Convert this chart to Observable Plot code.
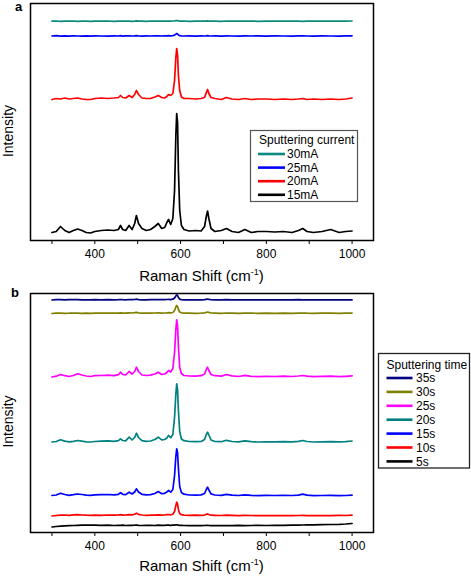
<!DOCTYPE html>
<html>
<head>
<meta charset="utf-8">
<script src="https://cdn.jsdelivr.net/npm/d3@7"></script>
<script src="https://cdn.jsdelivr.net/npm/@observablehq/plot@0.6"></script>
<style>
  html, body { margin: 0; padding: 0; background: #fff; }
  #wrap { position: relative; width: 471px; height: 578px; overflow: hidden; font-family: "Liberation Sans", Arial, sans-serif; }
  #wrap svg { position: absolute; left: 0; overflow: visible; }
</style>
</head>
<body>
<div id="wrap"></div>
<script>
// ---------- data ----------
const shift = [300,310,320,330,340,350,360,370,380,390,
  400,415,430,445,455,460,465,472,480,487,
  493,497,502,510,520,530,540,548,556,563,
  568,572,577,582,586,589,591,593,595,598,
  602,608,620,635,648,656,660,663,666,671,
  680,695,707,720,735,750,765,780,800,820,
  840,860,875,885,895,910,930,950,970,985,
  1000];

const xTicks = [300,400,500,600,700,800,900,1000];
const xTickLabels = [400,600,800,1000];

// Panel a: sputtering current
const currentLabels = ["30mA","25mA","20mA","15mA"];
const currentColors = ["#0a8a80","#0000ff","#ff0000","#000000"];
const i30mA = [219.3,219.5,219.2,219.4,219.3,219.5,219.2,219.4,219.3,219.2,
  219.4,219.3,219.5,219.2,219.4,219.3,219.5,219.3,219.4,219.2,
  219.4,219.6,219.3,219.4,219.2,219.5,219.3,219.4,219.3,219.5,
  219.4,219.5,219.3,219.5,219.6,219.8,219.9,219.8,219.6,219.4,
  219.3,219.5,219.2,219.4,219.3,219.5,219.4,219.6,219.4,219.3,
  219.4,219.2,219.5,219.3,219.4,219.3,219.5,219.2,219.4,219.3,
  219.5,219.3,219.4,219.2,219.4,219.3,219.5,219.4,219.3,219.4,
  219.5];
const i25mA = [204.5,204.8,204.3,204.6,204.4,204.7,204.5,204.3,204.6,204.4,
  204.7,204.5,204.4,204.6,204.5,204.8,204.4,204.6,204.7,204.5,
  204.6,204.9,204.5,204.4,204.6,204.5,204.7,204.6,204.5,204.6,
  204.7,204.8,204.6,204.9,205.3,206.3,207,206.5,205.5,204.8,
  204.6,204.5,204.7,204.4,204.6,204.5,204.6,204.9,204.6,204.5,
  204.6,204.4,204.7,204.5,204.4,204.6,204.5,204.7,204.4,204.6,
  204.5,204.4,204.6,204.7,204.5,204.4,204.6,204.5,204.4,204.6,
  204.7];
const i20mA = [141,142,141.5,142.5,141.5,142,142.5,141.5,141,141,
  142,142.5,142,142.5,143,145,143,142.5,145,143,
  146,150,146,142.5,142,142,143.5,145,143,142.5,
  144,146,145,147,160,183,192,186,165,150,
  143.5,142,142,141.5,142,143,148,151,147,143,
  142,141,143,141.5,141,142,141,141.5,141.5,141,
  141.5,141,141.5,142,141,141.5,141,141.5,141,141.5,
  142.5];
const i15mA = [8,9,14,10,8,10,11.5,10,8,7.5,
  9,10,10.5,10,11,15,11,10,15,11,
  17,25,17,12,10,11,14,17,12,13,
  18,21,16,22,50,105,127,118,70,30,
  15,11,9.5,10,9.5,14,24,29.5,22,12,
  9,10,12,9,8,11,8,9,9,8.5,
  9,8,10,12,9,8,9,11,8,9,
  9.5];

// Panel b: sputtering time
const timeLabels = ["35s","30s","25s","20s","15s","10s","5s"];
const timeColors = ["#000080","#808000","#ff00ff","#008080","#0000ff","#ff0000","#000000"];
const i35s = [232.5,232.8,232.9,232.7,232.8,232.9,232.8,232.6,232.7,232.6,
  232.8,232.7,232.9,232.7,232.8,233,232.8,232.7,233,232.8,
  233,233.3,232.9,232.7,232.6,232.8,232.9,233,232.8,232.9,
  233,233.1,232.9,233.3,234.5,236.5,237.7,237,235,233.4,
  232.9,232.7,232.6,232.7,232.6,232.8,233.2,233.5,233.2,232.8,
  232.7,232.6,232.8,232.7,232.6,232.7,232.6,232.7,232.6,232.7,
  232.6,232.7,232.8,232.7,232.6,232.7,232.6,232.7,232.6,232.7,
  232.7];
const i30s = [219,219.3,219.4,219.2,219.3,219.5,219.4,219.2,219.3,219.2,
  219.4,219.3,219.5,219.3,219.4,219.6,219.4,219.3,219.7,219.5,
  219.8,220.2,219.7,219.4,219.3,219.4,219.5,219.7,219.4,219.5,
  219.6,219.8,219.6,220,222,225.5,227,226,223,220.5,
  219.7,219.4,219.3,219.2,219.3,219.5,220.2,220.5,220.1,219.5,
  219.4,219.2,219.5,219.3,219.2,219.4,219.3,219.2,219.3,219.2,
  219.3,219.2,219.4,219.5,219.3,219.2,219.3,219.4,219.2,219.3,
  219.4];
const i25s = [155.5,156.3,158,156.8,156,157,158.7,157.5,156.5,156,
  156.8,157,157.3,156.9,157.8,160.3,158,157.5,161,158.5,
  161,165.3,161,157.5,157,157.4,158.5,160.3,158,158.5,
  160,162,160.5,164,180,203,212.7,207,186,165,
  159,157,156.5,156.4,156.8,158.5,163,165.3,162,158,
  156.8,156.4,158,156.6,156,157.2,156.2,155.9,156.2,156,
  156.3,156,156.5,157,156.3,155.9,156.1,156.3,155.9,156.2,
  156.6];
const i20s = [90.5,91,92.7,91.4,90.6,91.2,92,91.3,90.7,90.5,
  91,91.3,91.6,91.2,91.8,93.7,92,91.6,95.3,92.5,
  95,99.3,95,91.8,91.2,91.5,93,95.3,92.6,93,
  94.5,97,94.8,98,115,138,148.7,143,122,101,
  93.5,91.8,91,90.8,91,93,98,100.3,97.5,92.5,
  91,90.8,92.2,91,90.6,91.7,90.8,90.5,90.7,90.6,
  90.8,90.6,91.2,92,91,90.5,90.7,90.8,90.6,90.9,
  91.5];
const i15s = [37,37.5,39.3,38,37.2,37.8,38.5,38,37.4,37.2,
  37.6,37.8,38,37.7,38.2,39.8,38.2,37.9,40.3,38.5,
  40.5,43.7,40.5,38.2,37.7,37.9,39,41,38.8,39.2,
  40.5,42,40.3,43,57,76,83.7,80,64,46,
  40,38.3,37.5,37.4,37.6,39,43,45.3,42.5,38.6,
  37.5,37.2,38.2,37.3,37,37.6,37.1,36.9,37.2,37,
  37.1,37,37.4,38.3,37.3,36.9,37,37.2,36.9,37,
  37.4];
const i10s = [16.5,17,17.3,17.5,17.2,17.6,17.8,17.5,17.3,17.2,
  17.4,17.2,17.5,17.3,17.5,17.8,17.4,17.5,17.9,17.6,
  18.3,19.3,18.2,17.5,17.2,17.4,17.3,17.7,17.4,17.5,
  17.8,18,17.7,18.3,21,27,30.3,28.5,23,19,
  17.8,17.4,17.2,17.3,17.1,17.4,18.2,18.6,18,17.3,
  17.2,17,17.3,17.1,16.9,17.2,17,16.8,17,16.9,
  17,16.8,17,17.1,16.9,16.8,17,16.9,17.1,17,
  17.3];
const i5s = [5.5,6,6.3,6.6,6.8,7,7.2,7.4,7.3,7.5,
  7.4,7.2,7.3,7,7.2,7.1,7.3,7,7.2,7.1,
  7.3,7.5,7.2,7,7.1,7.2,7,7.3,7.1,7.2,
  7.3,7.4,7.2,7.3,7.4,7.6,7.7,7.6,7.4,7.2,
  7.1,7,6.9,7,6.8,7,7.1,7.2,7,6.9,
  7,6.8,7,6.9,7.1,6.9,7,7.2,7,7.1,
  7.2,7.3,7.4,7.5,7.6,7.7,7.8,8,8.2,8.5,
  9];

const currentSeries = [i30mA, i25mA, i20mA, i15mA];
const timeSeries = [i35s, i30s, i25s, i20s, i15s, i10s, i5s];

function toRows(labels, series) {
  const rows = [];
  labels.forEach((lab, k) => series[k].forEach((v, i) => rows.push({shift: shift[i], value: v, series: lab})));
  return rows;
}
const rowsA = toRows(currentLabels, currentSeries);
const rowsB = toRows(timeLabels, timeSeries);

const FONT = "'Liberation Sans', Arial, sans-serif";

function makePanel(rows, labels, colors, opts) {
  return Plot.plot({
    width: 471, height: opts.height,
    marginLeft: 30, marginRight: 98, marginTop: opts.marginTop, marginBottom: opts.marginBottom,
    style: {fontFamily: FONT, fontSize: "12px", color: "#000", background: "transparent"},
    x: {domain: [250, 1050]},
    y: {domain: opts.yDomain, axis: null},
    color: {domain: labels, range: colors},
    marks: [
      Plot.axisX({ticks: xTicks, tickSize: 4, tickPadding: 5, label: null, fontSize: 12,
        tickFormat: d => xTickLabels.includes(d) ? String(d) : ""}),
      Plot.line(rows, {x: "shift", y: "value", z: "series", stroke: "series", strokeWidth: 1.7, curve: "linear"}),
      Plot.frame({stroke: "#000", strokeWidth: 1.5})
    ]
  });
}

const wrap = document.getElementById("wrap");
const svgA = makePanel(rowsA, currentLabels, currentColors, {height: 285, marginTop: 3, marginBottom: 45, yDomain: [0, 237]});
svgA.style.top = "0px";
wrap.appendChild(svgA);
const svgB = makePanel(rowsB, timeLabels, timeColors, {height: 293, marginTop: 8, marginBottom: 46, yDomain: [0, 239]});
svgB.style.top = "285px";
wrap.appendChild(svgB);

function decorate(svgNode, o) {
  const svg = d3.select(svgNode);
  const g = svg.append("g").attr("font-family", FONT).attr("fill", "#000").attr("text-anchor", "start");
  // panel letter
  g.append("text").attr("x", o.letterX).attr("y", o.letterY).attr("font-size", 13).attr("font-weight", "bold").text(o.letter);
  // y label
  g.append("text").attr("transform", `translate(13,${o.yLabelY}) rotate(-90)`).attr("text-anchor", "middle")
    .attr("font-size", 14).text("Intensity");
  // x label with superscript
  const xl = g.append("text").attr("x", 201.5).attr("y", o.xLabelY).attr("text-anchor", "middle").attr("font-size", 15);
  xl.append("tspan").text("Raman Shift (cm");
  xl.append("tspan").attr("dy", -6).attr("font-size", 9).text("-1");
  xl.append("tspan").attr("dy", 6).text(")");
  // legend
  const L = o.legend;
  const lg = g.append("g").attr("text-anchor", "start");
  lg.append("rect").attr("x", L.x).attr("y", L.y).attr("width", L.w).attr("height", L.h)
    .attr("fill", "#fff").attr("stroke", L.stroke).attr("stroke-width", L.sw);
  lg.append("text").attr("x", L.titleX).attr("y", L.titleY).attr("dy", "0.35em").attr("font-size", 12).text(L.title);
  L.labels.forEach((lab, i) => {
    const y = L.row0 + i * L.step;
    lg.append("line").attr("x1", L.lx0).attr("x2", L.lx1).attr("y1", y).attr("y2", y)
      .attr("stroke", L.colors[i]).attr("stroke-width", 2.6);
    lg.append("text").attr("x", L.tx).attr("y", y).attr("dy", "0.35em").attr("font-size", 12).text(lab);
  });
}

decorate(svgA, {letter: "a", letterX: 15, letterY: 11, yLabelY: 131, xLabelY: 281,
  legend: {x: 250.5, y: 130.5, w: 107, h: 71, stroke: "#555", sw: 1.2, title: "Sputtering current",
    titleX: 259, titleY: 140, labels: currentLabels, colors: currentColors,
    row0: 154, step: 13.6, lx0: 258, lx1: 285, tx: 287}});

decorate(svgB, {letter: "b", letterX: 11, letterY: 12, yLabelY: 136.5, xLabelY: 286,
  legend: {x: 378.5, y: 68.5, w: 91, h: 114.5, stroke: "#222", sw: 1.3, title: "Sputtering time",
    titleX: 386.5, titleY: 79.5, labels: timeLabels, colors: timeColors,
    row0: 93, step: 13.9, lx0: 386.5, lx1: 412.5, tx: 416}});
</script>
</body>
</html>
